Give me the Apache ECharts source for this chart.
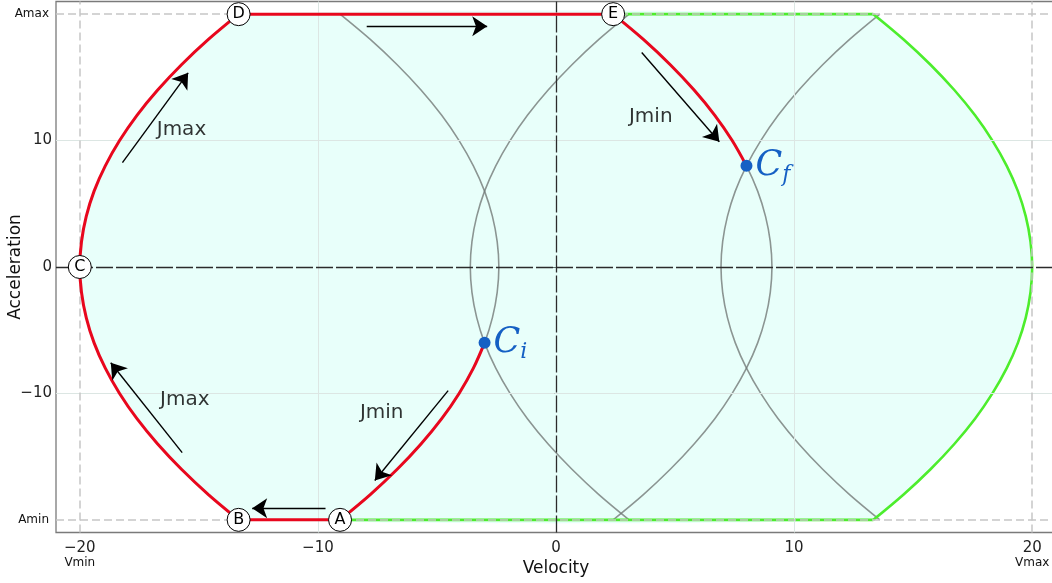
<!DOCTYPE html>
<html>
<head>
<meta charset="utf-8">
<script src="https://cdn.jsdelivr.net/npm/echarts@6/dist/echarts.min.js"></script>
<style>
  html, body { margin: 0; padding: 0; background: #fff; }
  #main { width: 1052px; height: 583px; }
</style>
</head>
<body>
<div id="main"></div>
<script>
// acceleration samples shared by all the curves
var accel = [-20, -18, -16, -14, -12, -10, -8, -6, -4, -2, 0, 2, 4, 6, 8, 10, 12, 14, 16, 18, 20];
// velocity of each curve at those accelerations
var outerLeft  = [-13.33, -14.6, -15.73, -16.73, -17.6, -18.33, -18.93, -19.4, -19.73, -19.93, -20, -19.93, -19.73, -19.4, -18.93, -18.33, -17.6, -16.73, -15.73, -14.6, -13.33];
var outerRight = [13.33, 14.6, 15.73, 16.73, 17.6, 18.33, 18.93, 19.4, 19.73, 19.93, 20, 19.93, 19.73, 19.4, 18.93, 18.33, 17.6, 16.73, 15.73, 14.6, 13.33];
var lensA = [3.07, 1.8, 0.67, -0.33, -1.2, -1.93, -2.53, -3.0, -3.33, -3.53, -3.6, -3.53, -3.33, -3.0, -2.53, -1.93, -1.2, -0.33, 0.67, 1.8, 3.07];
var lensB = [-9.07, -7.8, -6.67, -5.67, -4.8, -4.07, -3.47, -3.0, -2.67, -2.47, -2.4, -2.47, -2.67, -3.0, -3.47, -4.07, -4.8, -5.67, -6.67, -7.8, -9.07];
var lensC = [13.6, 12.33, 11.2, 10.2, 9.33, 8.6, 8.0, 7.53, 7.2, 7.0, 6.93, 7.0, 7.2, 7.53, 8.0, 8.6, 9.33, 10.2, 11.2, 12.33, 13.6];
var lensD = [2.4, 3.67, 4.8, 5.8, 6.67, 7.4, 8.0, 8.47, 8.8, 9.0, 9.07, 9.0, 8.8, 8.47, 8.0, 7.4, 6.67, 5.8, 4.8, 3.67, 2.4];

// labelled corner points
var letterNames = ['A', 'B', 'C', 'D', 'E'];
var letterV = [-9.07, -13.33, -20, -13.33, 2.4];
var letterA = [-20, -20, 0, 20, 20];

// initial / final states
var critNames = ['i', 'f'];
var critV = [-3, 8];
var critA = [-6, 8];

// arrows (tail -> tip)
var arrowFromV = [-7.95, -18.21, -15.70, -9.68, -4.53, 3.60];
var arrowFromA = [19.05, 8.25, -14.68, -19.08, -9.78, 16.97];
var arrowToV = [-2.89, -15.45, -18.70, -12.76, -7.61, 6.86];
var arrowToA = [19.05, 15.36, -7.57, -19.08, -16.89, 9.91];

// jerk annotations
var jerkText = ['Jmax', 'Jmax', 'Jmin', 'Jmin'];
var jerkV = [-15.73, -15.59, -7.32, 3.98];
var jerkA = [10.83, -10.51, -11.57, 11.88];

var xTicks = [-20, -10, 0, 10, 20];
var yTicks = [-20, -10, 0, 10, 20];

function pts(vs, from, to) {
    var out = [];
    for (var i = 0; i < accel.length; i++) {
        if (accel[i] >= from && accel[i] <= to) out.push([vs[i], accel[i]]);
    }
    return out;
}
function minus(v) { return String(v).replace('-', '\u2212'); }

var ptA = [letterV[0], letterA[0]];
var ptB = [letterV[1], letterA[1]];
var ptD = [letterV[3], letterA[3]];
var ptE = [letterV[4], letterA[4]];
var ptTR = [outerRight[20], 20];
var ptBR = [outerRight[0], -20];

var envelope = pts(outerLeft, -20, 20).concat(pts(outerRight, -20, 20).reverse());

var font = 'DejaVu Sans';
var red = '#e8071d', green = '#4ded2c';
var grayCol = 'rgba(115,122,120,0.8)';
var myChart = echarts.init(document.getElementById('main'));

function curve(data, color, width, z, smooth) {
    return {
        type: 'line', data: data, symbol: 'none', showSymbol: false, z: z,
        smooth: smooth ? 0.33 : false,
        lineStyle: { color: color, width: width }, silent: true
    };
}

var option = {
    animation: false,
    grid: {
        left: 56, top: 1.5, width: 1000, height: 531,
        outerBoundsMode: 'none', containLabel: false,
        show: true, borderColor: '#7a7a7a', borderWidth: 1.3
    },
    xAxis: {
        type: 'value', min: -21, max: 21,
        name: 'Velocity', nameLocation: 'middle', nameGap: 28, nameMoveOverlap: false,
        nameTextStyle: { fontFamily: font, fontSize: 17, color: '#111' },
        axisLine: { show: false },
        axisTick: { show: true, customValues: [-10, 0, 10], length: 4, lineStyle: { color: '#666' } },
        splitLine: { show: false },
        axisLabel: {
            customValues: xTicks, margin: 7, fontFamily: font, fontSize: 15, color: '#222', lineHeight: 17,
            formatter: function (v) {
                if (v === -20) return '\u221220\n{s|Vmin}';
                if (v === 20) return '20\n{s|Vmax}';
                return minus(v);
            },
            rich: { s: { fontFamily: font, fontSize: 12, color: '#111', lineHeight: 13 } }
        }
    },
    yAxis: {
        type: 'value', min: -21, max: 21,
        name: 'Acceleration', nameLocation: 'middle', nameGap: 32, nameMoveOverlap: false,
        nameTextStyle: { fontFamily: font, fontSize: 17, color: '#111' },
        axisLine: { show: false },
        axisTick: { show: true, customValues: [-10, 0, 10], length: 4, lineStyle: { color: '#666' } },
        splitLine: { show: false },
        axisLabel: {
            customValues: yTicks, margin: 4, fontFamily: font, fontSize: 15, color: '#222',
            formatter: function (v) {
                if (v === 20) return '{s|Amax}';
                if (v === -20) return '{s|Amin}';
                return minus(v);
            },
            rich: { s: { fontFamily: font, fontSize: 12, color: '#111', padding: [0, 3, 0, 0] } }
        }
    },
    series: [
        {
            type: 'custom', z: 1, silent: true, data: [0],
            renderItem: function (params, api) {
                return {
                    type: 'polygon',
                    shape: { points: envelope.map(function (p) { return api.coord(p); }), smooth: 0.2 },
                    style: { fill: 'rgba(0,255,200,0.09)' }
                };
            }
        },
        {
            type: 'line', data: [], z: 2, silent: true,
            markLine: {
                silent: true, symbol: ['none', 'none'], label: { show: false },
                animation: false,
                data: [
                    { xAxis: -10, lineStyle: { color: '#dce6e3', width: 1, type: 'solid' } },
                    { xAxis: 10, lineStyle: { color: '#dce6e3', width: 1, type: 'solid' } },
                    { yAxis: -10, lineStyle: { color: '#dce6e3', width: 1, type: 'solid' } },
                    { yAxis: 10, lineStyle: { color: '#dce6e3', width: 1, type: 'solid' } },
                    { xAxis: -20, lineStyle: { color: '#c6c6c6', width: 1.5, type: [8, 4] } },
                    { xAxis: 20, lineStyle: { color: '#c6c6c6', width: 1.5, type: [8, 4] } },
                    { yAxis: -20, lineStyle: { color: '#c6c6c6', width: 1.5, type: [8, 4] } },
                    { yAxis: 20, lineStyle: { color: '#c6c6c6', width: 1.5, type: [8, 4] } },
                    { xAxis: 0, lineStyle: { color: '#2b2b2b', width: 1.3, type: [17, 3] } },
                    { yAxis: 0, lineStyle: { color: '#2b2b2b', width: 1.3, type: [17, 3] } }
                ]
            }
        },
        curve(pts(lensA, -20, 20), grayCol, 1.6, 3, true),
        curve(pts(lensB, -20, 20), grayCol, 1.6, 3, true),
        curve(pts(lensC, -20, 20), grayCol, 1.6, 3, true),
        curve(pts(lensD, -20, 20), grayCol, 1.6, 3, true),
        curve([ptE, ptTR], green, 2.6, 4, false),
        curve(pts(outerRight, -20, 20), green, 2.6, 4, true),
        curve([ptBR, ptA], green, 2.6, 4, false),
        curve([ptA, ptB], red, 3, 5, false),
        curve(pts(outerLeft, -20, 20), red, 3, 5, true),
        curve([ptD, ptE], red, 3, 5, false),
        curve(pts(lensD, 8, 20), red, 3, 5, true),
        curve(pts(lensB, -20, -6), red, 3, 5, true),
        {
            type: 'lines', coordinateSystem: 'cartesian2d', z: 6, silent: true,
            symbol: ['none', 'arrow'], symbolSize: 15,
            lineStyle: { color: '#000', width: 1.4, opacity: 1 },
            data: arrowFromV.map(function (v, i) {
                return { coords: [[v, arrowFromA[i]], [arrowToV[i], arrowToA[i]]] };
            })
        },
        {
            type: 'scatter', z: 7, silent: true, symbolSize: 0,
            data: jerkText.map(function (t, i) { return [jerkV[i], jerkA[i], t]; }),
            label: {
                show: true, position: 'inside', fontFamily: font, fontSize: 20, color: '#000',
                textBorderWidth: 0,
                formatter: function (p) { return p.value[2]; }
            }
        },
        {
            type: 'scatter', z: 8, silent: true, symbol: 'circle', symbolSize: 23,
            itemStyle: { color: '#fff', borderColor: '#000', borderWidth: 1, opacity: 1 },
            data: letterNames.map(function (t, i) { return [letterV[i], letterA[i], t]; }),
            label: {
                show: true, position: 'inside', fontFamily: font, fontSize: 16, color: '#000',
                textBorderWidth: 0,
                formatter: function (p) { return p.value[2]; }
            }
        },
        {
            type: 'scatter', z: 8, silent: true, symbol: 'circle', symbolSize: 12,
            itemStyle: { color: '#1560c4', opacity: 1 },
            data: critNames.map(function (t, i) { return [critV[i], critA[i], t]; }),
            label: {
                show: true, position: 'right', distance: 3,
                formatter: function (p) { return '{c|C}{s|' + p.value[2] + '}'; },
                rich: {
                    c: { fontFamily: 'DejaVu Serif', fontStyle: 'italic', fontSize: 35, color: '#1560c4', lineHeight: 40 },
                    s: { fontFamily: 'DejaVu Serif', fontStyle: 'italic', fontSize: 22, color: '#1560c4', verticalAlign: 'bottom', lineHeight: 22 }
                }
            }
        }
    ]
};
myChart.setOption(option);
</script>
</body>
</html>
